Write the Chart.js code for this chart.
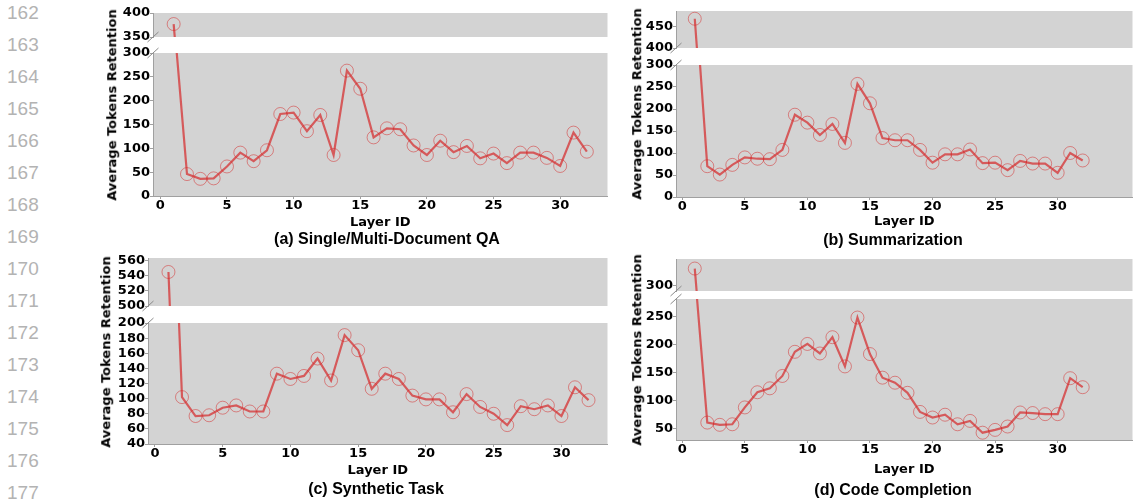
<!DOCTYPE html>
<html><head><meta charset="utf-8">
<script src="https://cdn.jsdelivr.net/npm/chart.js@4.4.0/dist/chart.umd.min.js"></script>
<style>
html,body{margin:0;padding:0;background:#fff;overflow:hidden}
#root{position:relative;width:1140px;height:504px;overflow:hidden;background:#fff}
canvas{position:absolute}
.txt{position:absolute;white-space:nowrap}
</style></head><body><div id="root"></div>
<script>
// ---------- data ----------
const layers = [1,2,3,4,5,6,7,8,9,10,11,12,13,14,15,16,17,18,19,20,21,22,23,24,25,26,27,28,29,30,31,32];
const qaValues   = [377,46,36,37,62,91,73,96,172,175,136,170,86,263,225,123,142,140,106,86,116,92,105,79,89,69,91,91,80,63,133,93];
const sumValues  = [468,70,51,73,90,87,86,107,187,169,141,166,123,257,213,134,129,129,107,78,97,97,108,77,78,61,82,76,76,55,100,83];
const synValues  = [545,102,77,78,88,91,83,83,133,126,130,153,124,184,164,113,133,126,104,99,99,82,106,89,80,65,90,86,91,77,115,98];
const codeValues = [330,61,57,58,88,115,122,144,187,201,184,213,161,248,183,141,132,114,80,70,75,58,64,43,48,54,79,78,76,76,140,124];
const xTicks = [0,5,10,15,20,25,30];
const qaTopTicks = [350,400];
const qaBottomTicks = [0,50,100,150,200,250,300];
const sumTopTicks = [400,450];
const sumBottomTicks = [0,50,100,150,200,250,300];
const synTopTicks = [500,520,540,560];
const synBottomTicks = [40,60,80,100,120,140,160,180,200];
const codeTopTicks = [300];
const codeBottomTicks = [50,100,150,200,250];
const panelTitles = ['(a) Single/Multi-Document QA','(b) Summarization','(c) Synthetic Task','(d) Code Completion'];
const xTitle = 'Layer ID';
const yTitle = 'Average Tokens Retention';
const lineNumbers = [162,163,164,165,166,167,168,169,170,171,172,173,174,175,176,177];

// ---------- layout ----------
const panels = [
  {values: qaValues, title: panelTitles[0], left:153, right:615, xMin:-0.55, xMax:33.55,
   top:{y0:13, y1:37, min:350, max:400, ticks:qaTopTicks},
   bottom:{y0:53, y1:196, min:0, max:300, ticks:qaBottomTicks}, xh:34,
   ylab:{x:112, y:105}, sub:{x:387, y:239}},
  {values: sumValues, title: panelTitles[1], left:676, right:1140, xMin:-0.5, xMax:35.98,
   top:{y0:11, y1:48, min:400, max:486, ticks:sumTopTicks},
   bottom:{y0:65, y1:197, min:0, max:300, ticks:sumBottomTicks}, xh:32,
   ylab:{x:637, y:104}, sub:{x:893, y:240}},
  {values: synValues, title: panelTitles[2], left:148, right:615, xMin:-0.51, xMax:33.4,
   top:{y0:258, y1:306, min:500, max:563.5, ticks:synTopTicks},
   bottom:{y0:323, y1:444.3, min:40, max:200, ticks:synBottomTicks}, xh:34,
   ylab:{x:106, y:352}, sub:{x:376, y:489}},
  {values: codeValues, title: panelTitles[3], left:676, right:1140, xMin:-0.5, xMax:35.98,
   top:{y0:259, y1:291.3, min:290, max:347, ticks:codeTopTicks},
   bottom:{y0:299.3, y1:440.7, min:30, max:281, ticks:codeBottomTicks}, xh:37,
   ylab:{x:637, y:350}, sub:{x:893, y:490}}
];

const root = document.getElementById('root');
Chart.defaults.font.family = "'DejaVu Sans', sans-serif";
Chart.defaults.font.size = 13;
Chart.defaults.font.weight = 'bold';
Chart.defaults.color = '#000';

const SPINE = '#a0a0a0';
const bgPlugin = {
  id: 'bg',
  beforeDraw(chart) {
    const a = chart.chartArea, ctx = chart.ctx;
    ctx.save(); ctx.fillStyle = '#d3d3d3';
    ctx.fillRect(a.left, a.top, a.right - a.left, a.bottom - a.top);
    ctx.restore();
  },
  afterDraw(chart, args, opts) {
    const a = chart.chartArea, ctx = chart.ctx;
    const y = opts.where === 'bottom' ? a.bottom : a.top;
    ctx.save(); ctx.strokeStyle = '#8a8a8a'; ctx.lineWidth = 1;
    ctx.beginPath(); ctx.moveTo(a.left - 5.5, y + 5); ctx.lineTo(a.left + 5.5, y - 5); ctx.stroke();
    ctx.restore();
  }
};

function section(p, s, isBottom) {
  const YW = 50, PT = 10;
  const left = p.left - YW;
  const top = s.y0 - PT;
  const w = Math.round(p.right - left);
  const h = Math.round(PT + (s.y1 - s.y0) + (isBottom ? p.xh : 10));
  const c = document.createElement('canvas');
  c.width = w; c.height = h;
  c.style.left = left + 'px'; c.style.top = top + 'px';
  c.style.width = w + 'px'; c.style.height = h + 'px';
  root.appendChild(c);
  const xScale = {
    type: 'linear', min: p.xMin, max: p.xMax, display: isBottom,
    afterBuildTicks: sc => { sc.ticks = xTicks.map(v => ({value: v})); },
    ticks: { padding: 0, font: {size: 13, weight: 'bold', lineHeight: 1}, color: '#000', maxRotation: 0, autoSkip: false },
    grid: { drawOnChartArea: false, drawTicks: true, tickLength: 3, color: SPINE },
    border: { display: true, color: SPINE, width: 1 },
    title: { display: true, text: xTitle, font: {size: 13, weight: 'bold'}, color: '#000', padding: {top: 0, bottom: 0} }
  };
  if (isBottom) xScale.afterFit = sc => { sc.height = p.xh; };
  new Chart(c, {
    type: 'line',
    data: { datasets: [{
      data: layers.map((l, i) => ({x: l, y: p.values[i]})),
      borderColor: 'rgba(214,39,40,0.7)', borderWidth: 2.2, tension: 0,
      pointRadius: 6.5, pointBorderWidth: 1,
      pointBorderColor: 'rgba(214,39,40,0.5)', pointBackgroundColor: 'rgba(0,0,0,0)',
      clip: 0
    }]},
    options: {
      responsive: false, animation: false, devicePixelRatio: 1,
      layout: { padding: { top: PT, bottom: isBottom ? 0 : 10, left: 0, right: 0 } },
      plugins: { legend: {display: false}, tooltip: {enabled: false},
                 bg: { where: isBottom ? 'top' : 'bottom' } },
      scales: {
        x: xScale,
        y: {
          type: 'linear', min: s.min, max: s.max,
          afterBuildTicks: sc => { sc.ticks = s.ticks.map(v => ({value: v})); },
          afterFit: sc => { sc.width = YW; },
          ticks: { padding: 0, font: {size: 13, weight: 'bold'}, color: '#000', autoSkip: false },
          grid: { drawOnChartArea: false, drawTicks: true, tickLength: 3, color: SPINE },
          border: { display: true, color: SPINE, width: 1 }
        }
      }
    },
    plugins: [bgPlugin]
  });
}

function addText(txt, x, y, css, transform) {
  const d = document.createElement('div');
  d.className = 'txt'; d.textContent = txt;
  d.style.cssText += css;
  d.style.left = x + 'px'; d.style.top = y + 'px';
  d.style.transform = transform;
  root.appendChild(d);
}

panels.forEach(p => {
  section(p, p.top, false);
  section(p, p.bottom, true);
  addText(yTitle, p.ylab.x, p.ylab.y, "font:bold 13px 'DejaVu Sans';line-height:15.6px;color:#000;",
          'translate(-50%,-50%) rotate(-90deg)');
  addText(p.title, p.sub.x, p.sub.y, "font:bold 16px 'Liberation Sans';line-height:16px;color:#000;",
          'translate(-50%,-50%)');
});

lineNumbers.forEach((n, i) => {
  addText(String(n), 7, 11.7 + 32 * i, "font:19px 'Liberation Sans';line-height:19px;color:#b3b3b3;",
          'translateY(-50%)');
});
</script></body></html>
